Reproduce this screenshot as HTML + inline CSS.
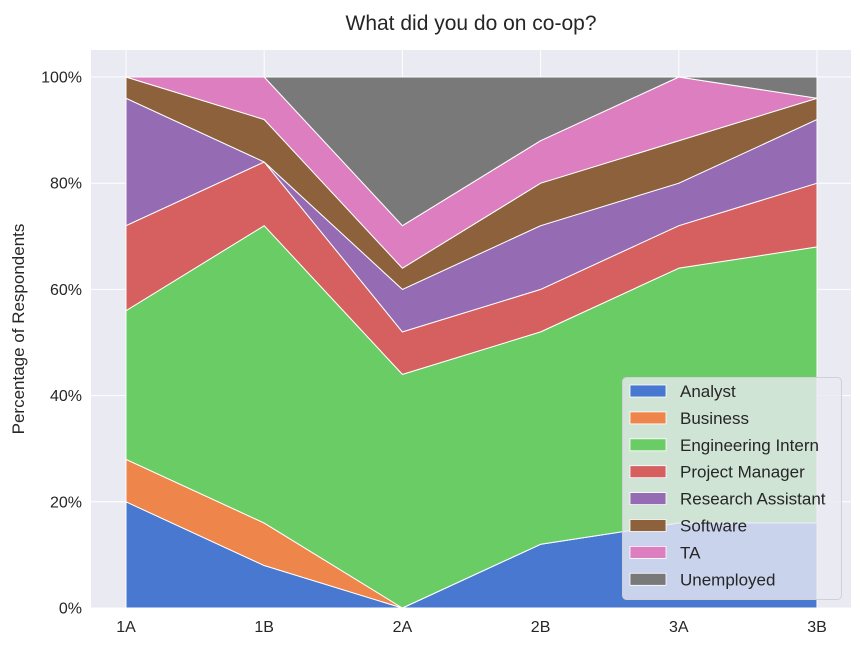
<!DOCTYPE html>
<html><head><meta charset="utf-8"><style>
body{margin:0;background:#fff;}
svg text{font-family:"Liberation Sans",Arial,sans-serif;fill:#262626;}
</style></head><body>
<svg width="864" height="648" xmlns="http://www.w3.org/2000/svg">
<rect x="91" y="50" width="760" height="558" fill="#eaeaf2"/>
<g id="grid"></g>
<g id="areas"></g>
<g id="ticks"></g>
<text x="471" y="30" font-size="21" text-anchor="middle">What did you do on co-op?</text>
<text transform="translate(24,329) rotate(-90)" font-size="17" text-anchor="middle">Percentage of Respondents</text>
<g id="legend"></g>
</svg>
<script>
const categories=["1A","1B","2A","2B","3A","3B"];
const seriesNames=["Analyst","Business","Engineering Intern","Project Manager","Research Assistant","Software","TA","Unemployed"];
const analyst=[20,8,0,12,16,16];
const business=[8,8,0,0,0,0];
const engineering=[28,56,44,40,48,52];
const pm=[16,12,8,8,8,12];
const ra=[24,0,8,12,8,12];
const software=[4,8,4,8,8,4];
const ta=[0,8,8,8,12,0];
const unemployed=[0,0,28,12,0,4];
const yTicks=[0,20,40,60,80,100];
const colors=["#4878d0","#ee854a","#6acc64","#d65f5f","#956cb4","#8c613c","#dc7ec0","#797979"];
const series=[analyst,business,engineering,pm,ra,software,ta,unemployed];
const NS="http://www.w3.org/2000/svg";
const X=i=>126+i*138.2, Y=v=>608-v*5.31;
function mk(t,a,p){const e=document.createElementNS(NS,t);for(const k in a)e.setAttribute(k,a[k]);p.appendChild(e);return e;}
const grid=document.getElementById('grid'),ticks=document.getElementById('ticks'),areas=document.getElementById('areas');
yTicks.forEach(v=>{const l=mk('line',{x1:91,x2:851,y1:Y(v),y2:Y(v),stroke:'#fff','stroke-width':1},grid);

const t=mk('text',{x:82,y:Y(v)+5.5,'font-size':16,'text-anchor':'end'},ticks);t.textContent=v+'%';
});
categories.forEach((c,i)=>{const l=mk('line',{x1:X(i),x2:X(i),y1:50,y2:608,stroke:'#fff','stroke-width':1},grid);

const t=mk('text',{x:X(i),y:632,'font-size':16,'text-anchor':'middle'},ticks);t.textContent=c;
});
let base=categories.map(()=>0);
series.forEach((s,k)=>{const top=base.map((b,i)=>b+s[i]);
let d='M'+top.map((v,i)=>X(i)+','+Y(v)).join(' L');
for(let i=categories.length-1;i>=0;i--)d+=' L'+X(i)+','+Y(base[i]);d+='Z';
const p=mk('path',{d:d,fill:colors[k],stroke:'#fff','stroke-width':1,'stroke-linejoin':'round'},areas);

base=top;});
const lg=document.getElementById('legend');
const bx=mk('rect',{x:622.5,y:377.5,width:219,height:222,rx:4,fill:'#eaeaf2','fill-opacity':0.8,stroke:'#d0d0d8'},lg);

seriesNames.forEach((n,k)=>{const y=391+k*26.9;
const r=mk('rect',{x:630,y:y-6,width:36,height:12,fill:colors[k],stroke:'#fff','stroke-width':0.8},lg);

const t=mk('text',{x:680,y:y+6,'font-size':17},lg);t.textContent=n;
});
</script>
</body></html>
